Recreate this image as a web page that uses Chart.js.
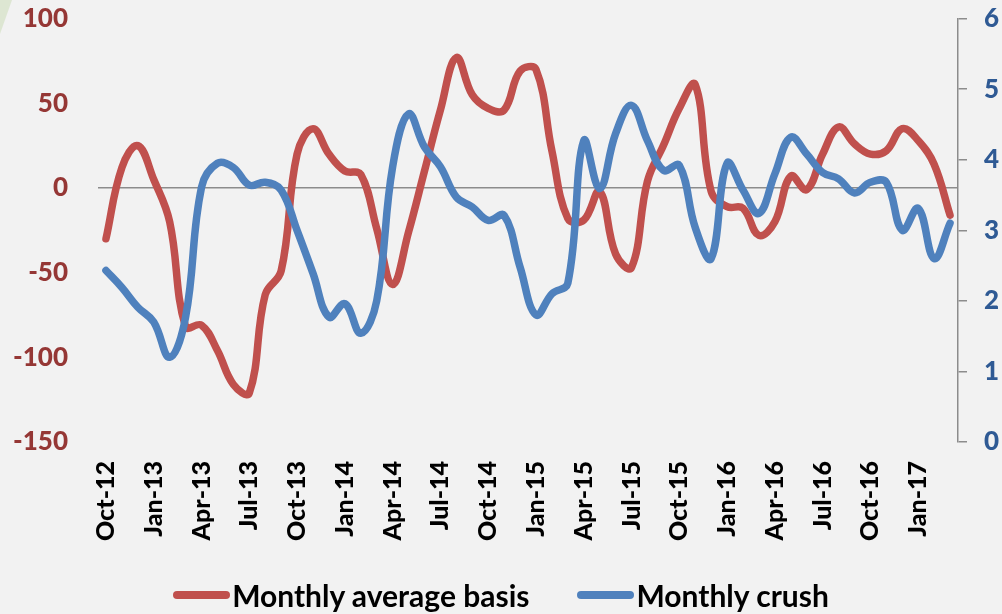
<!DOCTYPE html>
<html>
<head>
<meta charset="utf-8">
<script src="https://cdn.jsdelivr.net/npm/chart.js@4.4.1/dist/chart.umd.min.js"></script>
<style>
  html, body { margin: 0; padding: 0; background: #f2f2f2; }
  #wrap { position: relative; width: 1002px; height: 614px; overflow: hidden; background: #f2f2f2; }
  #corner { position: absolute; left: 0; top: 0; width: 12px; height: 34px; background: #dde6d2;
            clip-path: polygon(0 0, 100% 0, 0 100%); }
  #chart { position: absolute; left: 0; top: 0; }
  #legend { position: absolute; left: 0; top: 577px; width: 1002px; display: flex; justify-content: center;
            font-family: Lato, "Open Sans", sans-serif; font-weight: 700; font-size: 30px; color: #000; }
  .item { display: flex; align-items: center; }
  .item + .item { margin-left: 48px; }
  .swatch { width: 57px; height: 8px; border-radius: 4px; margin-right: 2px; }
</style>
</head>
<body>
<div id="wrap">
  <div id="corner"></div>
  <canvas id="chart" width="1002" height="614"></canvas>
  <div id="legend"></div>
</div>
<script>
/* Monthly basis vs. crush */

const months = [
  "Oct-12", "Nov-12", "Dec-12",
  "Jan-13", "Feb-13", "Mar-13", "Apr-13", "May-13", "Jun-13", "Jul-13", "Aug-13", "Sep-13", "Oct-13", "Nov-13", "Dec-13",
  "Jan-14", "Feb-14", "Mar-14", "Apr-14", "May-14", "Jun-14", "Jul-14", "Aug-14", "Sep-14", "Oct-14", "Nov-14", "Dec-14",
  "Jan-15", "Feb-15", "Mar-15", "Apr-15", "May-15", "Jun-15", "Jul-15", "Aug-15", "Sep-15", "Oct-15", "Nov-15", "Dec-15",
  "Jan-16", "Feb-16", "Mar-16", "Apr-16", "May-16", "Jun-16", "Jul-16", "Aug-16", "Sep-16", "Oct-16", "Nov-16", "Dec-16",
  "Jan-17", "Feb-17", "Mar-17",
];

// left axis
const basis = [
  -30, 12, 25,
  5, -20, -82, -81, -96, -116, -121, -63, -49, 20, 35, 20,
  10, 8, -24, -57, -26, 10, 46, 77, 55, 47, 46, 69,
  70, 22, -18, -19, -2, -39, -47, 4, 25, 47, 61, -2,
  -11, -12, -28, -20, 7, -1, 20, 36, 26, 20, 22, 35,
  28, 14, -16,
];

// right axis
const crush = [
  2.43, 2.19, 1.91,
  1.70, 1.20, 1.77, 3.61, 3.95, 3.89, 3.64, 3.68, 3.57, 3.00, 2.39, 1.77,
  1.96, 1.54, 2.00, 3.90, 4.65, 4.18, 3.90, 3.47, 3.33, 3.14, 3.21, 2.48,
  1.80, 2.10, 2.25, 4.27, 3.59, 4.37, 4.77, 4.27, 3.85, 3.92, 3.04, 2.60,
  3.95, 3.57, 3.24, 3.80, 4.32, 4.08, 3.82, 3.73, 3.53, 3.68, 3.68, 3.00,
  3.31, 2.60, 3.10,
];

const leftTicks = { min: -150, max: 100, step: 50 };
const rightTicks = { min: 0, max: 6, step: 1 };
const LABEL_EVERY = 3;

const COLORS = {
  red: "#c0504d",
  blue: "#4f81bd",
  leftText: "#953735",
  rightText: "#2f5a94",
  axis: "#8c8c8c",
};
const FONT = "Lato, 'Open Sans', sans-serif";

const series = [
  { label: "Monthly average basis", data: basis, color: COLORS.red, axis: "y", order: 2 },
  { label: "Monthly crush", data: crush, color: COLORS.blue, axis: "y1", order: 1 },
];

// ---------- Legend -----------------------------------------------------
const legendEl = document.getElementById("legend");
series.forEach(s => {
  const item = document.createElement("div");
  item.className = "item";
  item.innerHTML = `<span class="swatch" style="background:${s.color}"></span><span>${s.label}</span>`;
  legendEl.appendChild(item);
});

// ---------- Chart ------------------------------------------------------
new Chart(document.getElementById("chart"), {
  type: "line",
  data: {
    labels: months,
    datasets: series.map(s => ({
      label: s.label,
      data: s.data,
      yAxisID: s.axis,
      order: s.order,
      borderColor: s.color,
      backgroundColor: s.color,
      borderWidth: 7.5,
      borderCapStyle: "round",
      borderJoinStyle: "round",
      pointRadius: 0,
      tension: 0.4,
      fill: false,
    })),
  },
  options: {
    responsive: false,
    animation: false,
    layout: { padding: { top: 18, left: 0, right: 0, bottom: 0 } },
    plugins: { legend: { display: false }, tooltip: { enabled: false } },
    scales: {
      x: {
        offset: true,
        grid: { display: false },
        border: { display: false },
        afterFit: sc => { sc.height = 614 - 442; },
        ticks: {
          autoSkip: false,
          minRotation: 90,
          maxRotation: 90,
          padding: 11,
          color: "#000",
          font: { family: FONT, size: 25, weight: "900" },
          callback: (v, i) => (i % LABEL_EVERY === 0 ? months[i] : ""),
        },
      },
      y: {
        position: "left",
        min: leftTicks.min,
        max: leftTicks.max,
        afterFit: sc => { sc.width = 98; },
        border: { display: false },
        grid: {
          drawTicks: true,
          tickLength: 27,
          tickColor: "transparent",
          lineWidth: 1.5,
          color: ctx => (ctx.tick && ctx.tick.value === 0 ? COLORS.axis : "transparent"),
        },
        ticks: {
          stepSize: leftTicks.step,
          padding: 3,
          color: COLORS.leftText,
          font: { family: FONT, size: 26, weight: "900" },
        },
      },
      y1: {
        position: "right",
        min: rightTicks.min,
        max: rightTicks.max,
        afterFit: sc => { sc.width = 44; },
        border: { display: true, color: COLORS.axis, width: 1.5 },
        grid: { drawOnChartArea: false, drawTicks: true, tickLength: 9, color: COLORS.axis, lineWidth: 1.5 },
        ticks: {
          stepSize: rightTicks.step,
          padding: 17,
          color: COLORS.rightText,
          font: { family: FONT, size: 26, weight: "900", lineHeight: 0.1 },
        },
      },
    },
  },
});
</script>
</body>
</html>
